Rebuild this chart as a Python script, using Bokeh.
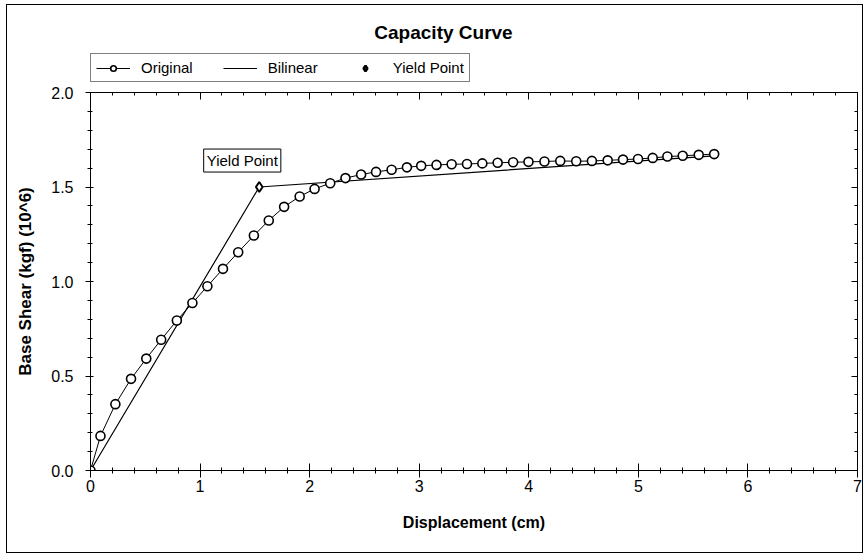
from bokeh.plotting import figure
from bokeh.layouts import column
from bokeh.models import (LinearAxis, SingleIntervalTicker, Range1d, Label, Legend,
                          LegendItem, NumeralTickFormatter)
from bokeh.embed import file_html
from bokeh.resources import INLINE

# ---- data ----
disp = [0, 0.091, 0.227, 0.370, 0.509, 0.645, 0.788, 0.930, 1.067, 1.209, 1.348,
        1.491, 1.627, 1.767, 1.909, 2.045, 2.188, 2.327, 2.470, 2.606, 2.748,
        2.888, 3.018, 3.158, 3.296, 3.436, 3.576, 3.716, 3.857, 3.997, 4.143,
        4.287, 4.433, 4.576, 4.720, 4.860, 4.997, 5.131, 5.265, 5.405, 5.551, 5.692]
shear = [0, 0.183, 0.351, 0.485, 0.592, 0.692, 0.794, 0.886, 0.975, 1.067, 1.155,
         1.243, 1.323, 1.395, 1.450, 1.490, 1.520, 1.547, 1.566, 1.580, 1.591,
         1.604, 1.612, 1.617, 1.620, 1.622, 1.625, 1.628, 1.631, 1.633, 1.635,
         1.638, 1.636, 1.638, 1.641, 1.645, 1.648, 1.654, 1.661, 1.665, 1.670, 1.674]
bilin_x = [0, 1.54, 5.692]
bilin_y = [0, 1.50, 1.665]
yield_x = [1.54]
yield_y = [1.50]
series_names = ["Original", "Bilinear", "Yield Point"]

FONT = "Liberation Sans"

# ---------- header (title + legend); its ranges keep the data out of view ----------
h = figure(width=855, height=80, output_backend="svg", toolbar_location=None,
           x_range=Range1d(100, 101), y_range=Range1d(100, 101),
           min_border=0, min_border_left=0, min_border_right=0,
           min_border_top=0, min_border_bottom=0,
           x_axis_location=None, y_axis_location=None)
h.grid.visible = False
h.outline_line_color = None
h.background_fill_color = "white"
h.border_fill_color = "white"

h_ol = h.line(disp, shear, line_color="black", line_width=1)
h_oc = h.scatter(disp, shear, marker="circle", size=9, line_color="black",
                 line_width=1.6, fill_color="white")
h_bl = h.line(bilin_x, bilin_y, line_color="black", line_width=1.2)
h_yp = h.scatter(yield_x, yield_y, marker="diamond", size=10, line_color="black",
                 line_width=2.5, fill_color="white")

title = Label(x=353, y=53, x_units="screen", y_units="screen", text="Capacity Curve",
              text_align="center", text_baseline="middle", text_font=FONT,
              text_font_style="bold", text_font_size="19px", text_color="black")
h.add_layout(title)

legend = Legend(items=[
    LegendItem(label=series_names[0], renderers=[h_ol, h_oc]),
    LegendItem(label=series_names[1], renderers=[h_bl]),
    LegendItem(label=series_names[2], renderers=[h_yp]),
], orientation="horizontal", location=(0, 3))
legend.label_text_font = FONT
legend.label_text_font_size = "15px"
legend.label_text_color = "black"
legend.glyph_width = 34
legend.glyph_height = 14
legend.label_standoff = 11
legend.spacing = 30
legend.padding = 5
legend.margin = 0
legend.border_line_color = "black"
legend.border_line_width = 1
legend.background_fill_alpha = 1
h.add_layout(legend, "center")

# ---------- main plot ----------
p = figure(width=855, height=467, output_backend="svg", toolbar_location=None,
           x_range=Range1d(0, 7), y_range=Range1d(0, 2.0),
           min_border_left=83, min_border_right=5, min_border_top=7, min_border_bottom=82,
           x_axis_location=None, y_axis_location=None)
p.grid.visible = False
p.outline_line_color = "black"
p.background_fill_color = "white"
p.border_fill_color = "white"

def style_axis(ax, labels=True):
    ax.axis_line_color = "black"
    ax.major_tick_line_color = "black"
    ax.minor_tick_line_color = "black"
    if labels:
        ax.major_label_text_font = FONT
        ax.major_label_text_font_size = "16px"
        ax.major_label_text_color = "black"
    else:
        ax.major_label_text_font_size = "0px"
        ax.major_label_standoff = 0

xb = LinearAxis(ticker=SingleIntervalTicker(interval=1, num_minor_ticks=5))
style_axis(xb)
xb.major_tick_in = 7; xb.major_tick_out = 7
xb.minor_tick_in = 3; xb.minor_tick_out = 3
xb.major_label_standoff = 2
xb.axis_label = "Displacement (cm)"
xb.axis_label_text_font = FONT
xb.axis_label_text_font_style = "bold"
xb.axis_label_text_font_size = "16px"
xb.axis_label_text_color = "black"
xb.axis_label_standoff = 19
p.add_layout(xb, "below")

yl = LinearAxis(ticker=SingleIntervalTicker(interval=0.5, num_minor_ticks=5),
                formatter=NumeralTickFormatter(format="0.0"))
style_axis(yl)
yl.major_tick_in = 3; yl.major_tick_out = 5
yl.minor_tick_in = 2; yl.minor_tick_out = 3
yl.major_label_standoff = 12
yl.axis_label = "Base Shear (kgf) (10^6)"
yl.axis_label_text_font = FONT
yl.axis_label_text_font_style = "bold"
yl.axis_label_text_font_size = "17px"
yl.axis_label_text_color = "black"
yl.axis_label_standoff = 13
p.add_layout(yl, "left")

xt = LinearAxis(ticker=SingleIntervalTicker(interval=1, num_minor_ticks=5))
style_axis(xt, labels=False)
xt.major_tick_in = 7; xt.major_tick_out = 0
xt.minor_tick_in = 3; xt.minor_tick_out = 0
p.add_layout(xt, "above")

yr = LinearAxis(ticker=SingleIntervalTicker(interval=0.5, num_minor_ticks=5))
style_axis(yr, labels=False)
yr.major_tick_in = 6; yr.major_tick_out = 0
yr.minor_tick_in = 3; yr.minor_tick_out = 0
p.add_layout(yr, "right")

p.line(bilin_x, bilin_y, line_color="black", line_width=1.2)
p.line(disp, shear, line_color="black", line_width=1)
p.scatter(disp, shear, marker="circle", size=9, line_color="black",
          line_width=1.6, fill_color="white")
p.scatter(yield_x, yield_y, marker="diamond", size=10, line_color="black",
          line_width=2, fill_color="white")

lbl = Label(x=1.385, y=1.64, text="Yield Point", text_align="center",
            text_baseline="middle", text_font=FONT, text_font_size="15px",
            text_color="black", border_line_color="black", border_line_width=1,
            background_fill_color="white", padding=3)
p.add_layout(lbl)

layout = column(h, p, spacing=0,
                styles={"border": "1px solid black", "margin-left": "6px",
                        "margin-top": "4px", "background": "white"})

open("out.html", "w").write(file_html(layout, INLINE))
